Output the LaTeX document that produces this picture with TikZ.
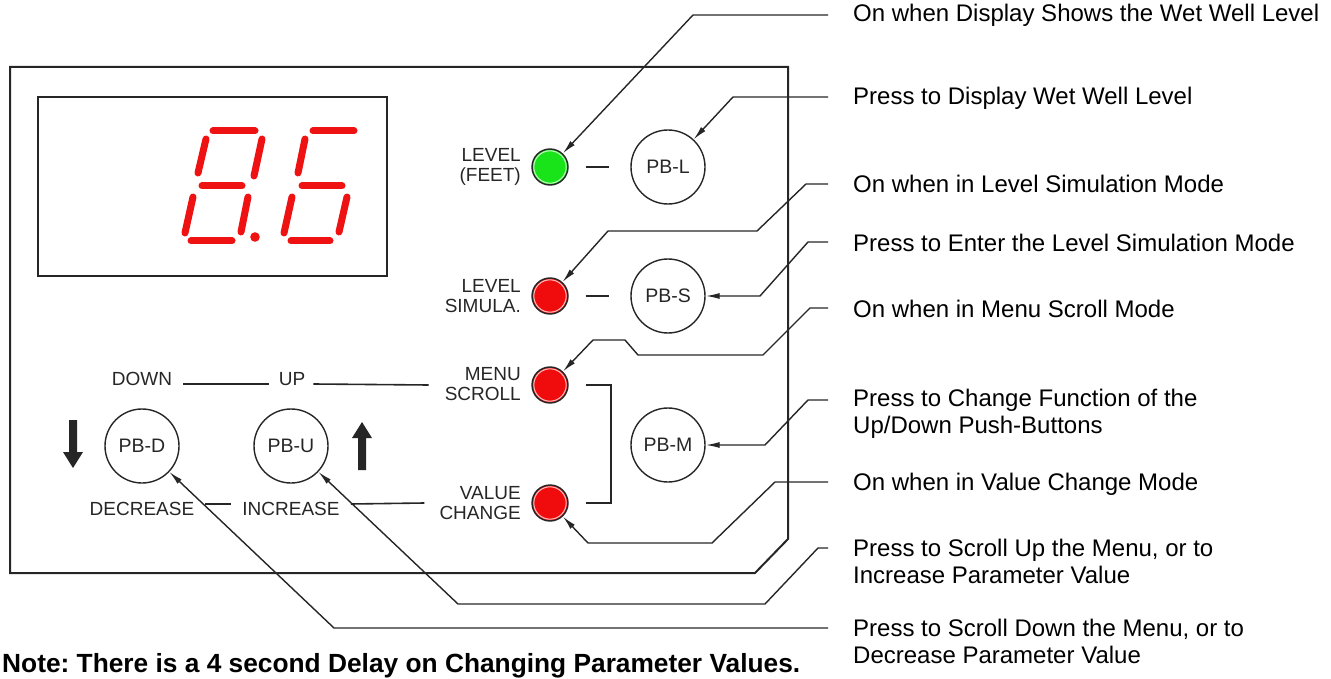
\documentclass[tikz,border=0pt]{standalone}
\usepackage{fontspec}
\setmainfont{Liberation Sans}
\usetikzlibrary{arrows.meta,calc}
\definecolor{segred}{RGB}{238,18,18}
\definecolor{ledred}{RGB}{240,12,12}
\definecolor{ledgreen}{RGB}{25,228,25}
\definecolor{ink}{RGB}{38,38,38}
\tikzset{
  frame/.style={draw=ink, line width=2pt},
  leader/.style={draw=ink, line width=1.4pt, line join=miter, -{Latex[length=14pt,width=6pt]}},
  plain/.style={draw=ink, line width=1.6pt},
  led/.style={circle, draw=ink, line width=1.4pt, minimum size=36pt, inner sep=0pt},
  pb/.style={circle, draw=ink, line width=1.4pt, minimum size=74pt, inner sep=0pt, text=ink, font=\fontsize{19.5}{20}\selectfont},
  lbl/.style={font=\fontsize{19}{20}\selectfont, inner sep=0pt, text=ink},
  plbl/.style={lbl, align=right, anchor=east},
  desc/.style={font=\fontsize{24}{27}\selectfont, inner sep=0pt, anchor=west, align=left, text=black},
  seg/.style={line width=7pt, line cap=round, draw=segred},
}
\begin{document}
\frenchspacing
\begin{tikzpicture}[x=1pt,y=-1pt]
\useasboundingbox (0,0) rectangle (1331,679);
% panel outline
\draw[frame] (10,67) -- (788,67) -- (788,539) -- (755,573) -- (10,573) -- cycle;
% display window
\draw[frame] (38,97) rectangle (387,276);
% digit 8
\draw[seg] (213,131) -- (255,131);
\draw[seg] (206,139) -- (198,173);
\draw[seg] (262,139) -- (254,176);
\draw[seg] (202,186) -- (242,186);
\draw[seg] (193,197) -- (185,233);
\draw[seg] (248,197) -- (241,232);
\draw[seg] (191,241) -- (232,241);
\fill[segred] (255,237) circle (4.8pt);
% digit 6
\draw[seg] (313,131) -- (354,131);
\draw[seg] (305,139) -- (298,173);
\draw[seg] (302,186) -- (342,186);
\draw[seg] (292,197) -- (284,233);
\draw[seg] (347,197) -- (339,232);
\draw[seg] (291,241) -- (330,241);
% LEDs
\node[led, fill=ledgreen] (ledL) at (550,167) {};
\node[led, fill=ledred] (ledS) at (550,296) {};
\node[led, fill=ledred] (ledM) at (550,385) {};
\node[led, fill=ledred] (ledV) at (550,503) {};
\foreach \n in {ledL,ledS,ledM,ledV}
  \draw[white, line width=1pt, opacity=0.75] (\n.center) circle (16.2pt);
% push buttons
\node[pb] (pbL) at (668,167) {PB-L};
\node[pb] (pbS) at (668,296) {PB-S};
\node[pb] (pbM) at (668,445) {PB-M};
\node[pb] (pbD) at (142,446) {PB-D};
\node[pb] (pbU) at (291,446) {PB-U};
% panel labels
\node[plbl] (labL) at (521,167) {LEVEL\\(FEET)};
\node[plbl] (labS) at (521,296) {LEVEL\\SIMULA.};
\node[plbl] (labM) at (521,384) {MENU\\SCROLL};
\node[plbl] (labV) at (521,503) {VALUE\\CHANGE};
\node[lbl] (down) at (142,379) {DOWN};
\node[lbl] (up) at (292,379) {UP};
\node[lbl] (dec) at (142,509) {DECREASE};
\node[lbl] (inc) at (291,509) {INCREASE};
% label lines
\draw[plain] ([xshift=11pt,yshift=-5pt]down.east) -- ([xshift=-10pt,yshift=-5pt]up.west);
\draw[plain] ([xshift=8pt,yshift=-5pt]up.east) -- ([xshift=-16pt]labM.west |- ledM.center);
\draw[plain] ([xshift=11pt,yshift=5pt]dec.east) -- ([xshift=-11pt,yshift=5pt]inc.west);
\draw[plain] ([xshift=11pt,yshift=5pt]inc.east) -- ([xshift=-15pt]labV.west |- ledV.center);
\draw[plain] ([xshift=17pt]ledL.east) -- ([xshift=-21pt]pbL.west);
\draw[plain] ([xshift=17pt]ledS.east) -- ([xshift=-21pt]pbS.west);
\draw[plain] ([xshift=17pt]ledM.east) -- ++(25,0) |- ([xshift=17pt]ledV.east);
% thick direction arrows
\fill[ink] (69,420) -- (77,420) -- (77,452) -- (83,452) -- (73,468) -- (63,452) -- (69,452) -- cycle;
\fill[ink] (358,470) -- (366,470) -- (366,438) -- (372,438) -- (362,422) -- (352,438) -- (358,438) -- cycle;
% descriptions
\node[desc] (t1) at (853,15) {On when Display Shows the Wet Well Level};
\node[desc] (t2) at (853,98) {Press to Display Wet Well Level};
\node[desc] (t3) at (853,184) {On when in Level Simulation Mode};
\node[desc] (t4) at (853,243) {Press to Enter the Level Simulation Mode};
\node[desc] (t5) at (853,309) {On when in Menu Scroll Mode};
\node[desc] (t6) at (853,413.5) {Press to Change Function of the\\Up/Down Push-Buttons};
\node[desc] (t7) at (853,484) {On when in Value Change Mode};
\node[desc] (t8) at (853,561.5) {Press to Scroll Up the Menu, or to\\Increase Parameter Value};
\node[desc] (t9) at (853,641.5) {Press to Scroll Down the Menu, or to\\Decrease Parameter Value};
\coordinate (s1) at (828,15);
\coordinate (s2) at (828,97);
\coordinate (s3) at (828,184);
\coordinate (s4) at (828,242);
\coordinate (s5) at (828,308);
\coordinate (s6) at (828,400);
\coordinate (s7) at (828,482);
\coordinate (s8) at (828,548);
\coordinate (s9) at (828,628);
% leaders
\draw[leader] (s1) -- (693,15) -- (ledL);
\draw[leader] (s2) -- (733,97) -- (pbL);
\draw[leader] (s3) -- (806,184) -- (757,231) -- (608,231) -- (ledS);
\draw[leader] (s4) -- (808,242) -- (760,296) -- (pbS);
\draw[leader] (s5) -- (810,308) -- (763,355) -- (638,355) -- (625,340) -- (593,340) -- (ledM);
\draw[leader] (s6) -- (808,400) -- (765,445) -- (pbM);
\draw[leader] (s7) -- (775,482) -- (712,543) -- (588,543) -- (ledV);
\draw[leader] (s8) -- (818,548) -- (765,604) -- (458,604) -- (pbU);
\draw[leader] (s9) -- (334,628) -- (pbD);
% note
\node[font=\bfseries\fontsize{26.3}{28}\selectfont, anchor=west, inner sep=0pt] (note) at (2,666) {Note: There is a 4 second Delay on Changing Parameter Values.};
\end{tikzpicture}
\end{document}
